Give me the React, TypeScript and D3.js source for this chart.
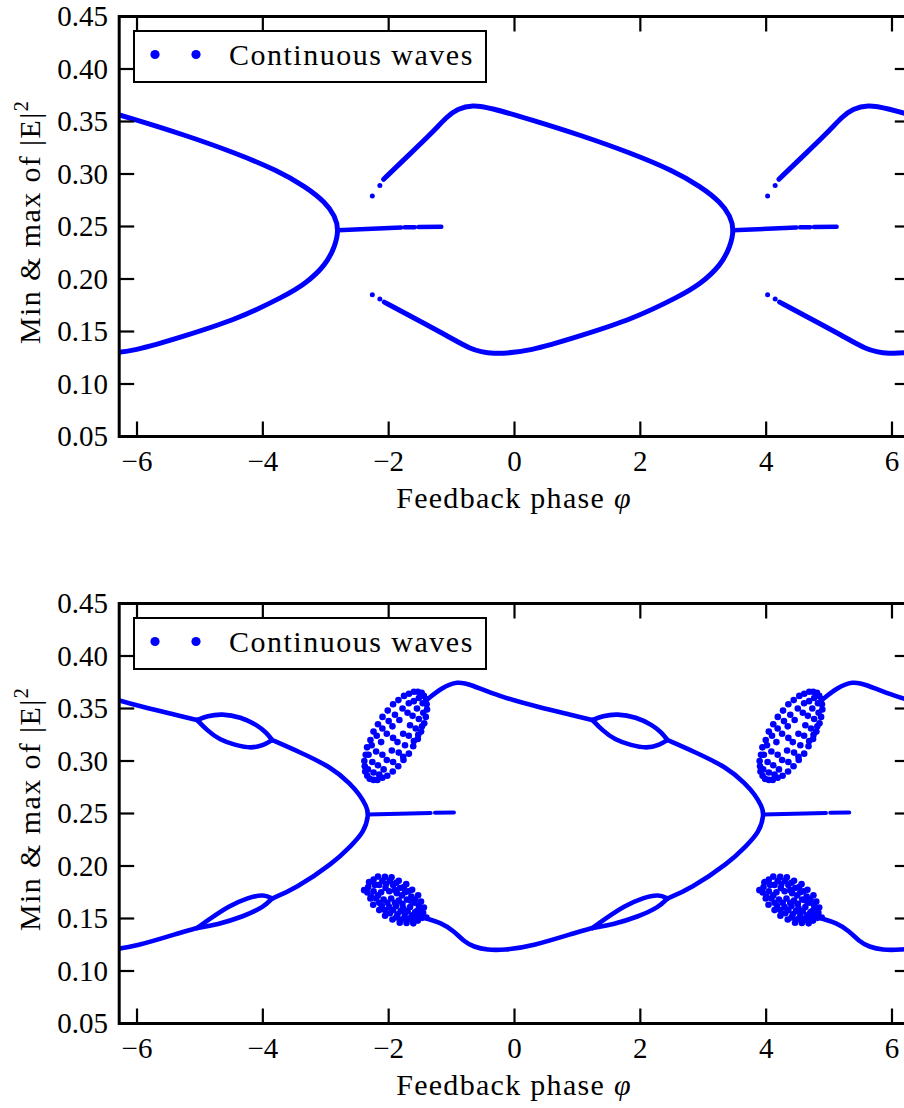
import React from "react";
import * as d3 from "d3";

type P = [number, number];

// Feedback phase is 2π-periodic: each branch is stored for one period and repeated.
const PERIOD = 2 * Math.PI;
const PERIOD_COPIES = [-1, 0, 1];

const X_TICKS = [-6, -4, -2, 0, 2, 4, 6];
const Y_TICKS = [0.05, 0.1, 0.15, 0.2, 0.25, 0.3, 0.35, 0.4, 0.45];
const LEGEND_LABEL = "Continuous waves";
const X_LABEL = "Feedback phase ";
const X_SYMBOL = "φ";
const Y_LABEL = "Min & max of |E|";
const Y_SUP = "2";

// ---- upper panel: period-one branches ----
const TOP_UPPER: P[] = [
  [-2.08, 0.295], [-1.7, 0.317], [-1.33, 0.338], [-1.07, 0.355], [-0.91, 0.362],
  [-0.67, 0.366], [-0.38, 0.363], [0.25, 0.352], [1.05, 0.337], [1.85, 0.32],
  [2.53, 0.303], [2.96, 0.288], [3.28, 0.273], [3.43, 0.26], [3.49, 0.247],
];
const TOP_LOWER: P[] = [
  [-2.07, 0.178], [-1.6, 0.163], [-1.07, 0.146], [-0.7, 0.133], [-0.38, 0.128],
  [0.25, 0.131], [1.05, 0.146], [1.85, 0.161], [2.64, 0.184], [2.95, 0.195],
  [3.28, 0.213], [3.43, 0.231], [3.49, 0.247],
];
const TOP_STEM: P[][] = [
  [[3.47, 0.2465], [4.48, 0.249]],
  [[4.54, 0.2492], [4.7, 0.2494]],
  [[4.76, 0.2495], [5.12, 0.2497]],
];
const TOP_ISOLATED: P[] = [
  [-2.26, 0.279], [-2.14, 0.289], [-2.26, 0.185], [-2.14, 0.181],
];

// ---- lower panel: period-one branches ----
const BOT_UPPER_IN: P[] = [
  [-1.4, 0.358], [-1.15, 0.37], [-0.91, 0.376], [-0.7, 0.373], [-0.27, 0.362],
  [0.4, 0.351], [0.9, 0.344], [1.24, 0.339],
];
const BOT_LOOP_HI_TOP: P[] = [
  [1.24, 0.339], [1.4, 0.343], [1.63, 0.345], [1.93, 0.342], [2.2, 0.334], [2.34, 0.327], [2.43, 0.32],
];
const BOT_LOOP_HI_BOTTOM: P[] = [
  [1.24, 0.339], [1.4, 0.329], [1.6, 0.32], [1.85, 0.315], [2.1, 0.312], [2.3, 0.315], [2.43, 0.32],
];
const BOT_UPPER_OUT: P[] = [
  [2.43, 0.32], [2.85, 0.309], [3.38, 0.294], [3.68, 0.278], [3.82, 0.268], [3.93, 0.257], [3.97, 0.249],
];
const BOT_LOWER_IN: P[] = [
  [-1.4, 0.15], [-1.17, 0.146], [-0.96, 0.138], [-0.8, 0.128], [-0.65, 0.123],
  [-0.43, 0.12], [-0.17, 0.12], [0.25, 0.123], [1.05, 0.138], [1.24, 0.141],
];
const BOT_LOOP_LO_TOP: P[] = [
  [1.24, 0.141], [1.45, 0.15], [1.75, 0.162], [2.05, 0.17], [2.3, 0.173], [2.43, 0.169],
];
const BOT_LOOP_LO_BOTTOM: P[] = [
  [1.24, 0.141], [1.55, 0.144], [1.98, 0.152], [2.3, 0.161], [2.43, 0.169],
];
const BOT_LOWER_OUT: P[] = [
  [2.43, 0.169], [2.79, 0.178], [3.41, 0.203], [3.68, 0.219], [3.89, 0.232], [3.97, 0.249],
];
const BOT_STEM: P[][] = [
  [[3.95, 0.249], [4.95, 0.2505]],
  [[5.02, 0.2507], [5.32, 0.251]],
];

// chaotic bands: individual extrema (rim first, then interior)
const CLOUD_UPPER: P[] = [
  [-1.476, 0.365], [-1.44, 0.362], [-1.405, 0.359], [-1.397, 0.354], [-1.39, 0.349],
  [-1.41, 0.342], [-1.435, 0.336], [-1.485, 0.328], [-1.537, 0.321], [-1.61, 0.314],
  [-1.679, 0.307], [-1.765, 0.301], [-1.848, 0.295], [-1.935, 0.29], [-2.022, 0.286],
  [-2.1, 0.284], [-2.179, 0.282], [-2.24, 0.282], [-2.302, 0.283], [-2.34, 0.286],
  [-2.373, 0.29], [-2.38, 0.295], [-2.387, 0.3], [-2.365, 0.306], [-2.343, 0.313],
  [-2.29, 0.32], [-2.241, 0.328], [-2.17, 0.335], [-2.098, 0.342], [-2.015, 0.348],
  [-1.93, 0.354], [-1.845, 0.358], [-1.756, 0.362], [-1.677, 0.364], [-1.598, 0.366],
  [-1.537, 0.366],
  [-1.52, 0.36], [-1.46, 0.355], [-1.6, 0.357], [-1.68, 0.355], [-1.55, 0.35], [-1.45, 0.346],
  [-1.78, 0.35], [-1.7, 0.346], [-1.62, 0.343], [-1.52, 0.34], [-1.47, 0.333],
  [-1.9, 0.344], [-1.83, 0.339], [-1.66, 0.334], [-1.57, 0.331], [-1.53, 0.325],
  [-2.0, 0.338], [-1.94, 0.333], [-1.77, 0.326], [-1.68, 0.324], [-1.6, 0.319],
  [-2.1, 0.331], [-2.03, 0.326], [-1.93, 0.322], [-1.86, 0.318], [-1.74, 0.315],
  [-2.19, 0.324], [-2.12, 0.318], [-1.95, 0.31], [-1.84, 0.308], [-1.77, 0.304],
  [-2.27, 0.315], [-2.2, 0.309], [-2.1, 0.306], [-2.03, 0.301], [-1.93, 0.299],
  [-2.32, 0.306], [-2.26, 0.299], [-2.17, 0.296], [-2.08, 0.292],
  [-2.33, 0.292], [-2.24, 0.289], [-2.15, 0.287],
];
const CLOUD_LOWER: P[] = [
  [-2.39, 0.177],
  [-1.466, 0.1506], [-1.537, 0.148], [-1.608, 0.1454], [-1.716, 0.1457], [-1.824, 0.146],
  [-1.94, 0.149], [-2.057, 0.1526], [-2.15, 0.158], [-2.246, 0.1631], [-2.29, 0.169],
  [-2.338, 0.1748], [-2.325, 0.18], [-2.311, 0.1846], [-2.24, 0.187], [-2.17, 0.1899],
  [-2.06, 0.1896], [-1.954, 0.1892], [-1.84, 0.186], [-1.721, 0.1827], [-1.627, 0.1774],
  [-1.532, 0.1721], [-1.486, 0.1662], [-1.44, 0.1604], [-1.453, 0.1555], [-1.4, 0.151],
  [-2.15, 0.182], [-2.04, 0.183], [-1.93, 0.182], [-1.82, 0.179],
  [-2.24, 0.176], [-2.12, 0.175], [-1.99, 0.176], [-1.87, 0.174], [-1.74, 0.175], [-1.64, 0.171],
  [-2.2, 0.169], [-2.08, 0.168], [-1.96, 0.169], [-1.84, 0.167], [-1.71, 0.168], [-1.59, 0.165], [-1.52, 0.162],
  [-2.11, 0.162], [-1.99, 0.161], [-1.88, 0.162], [-1.77, 0.16], [-1.66, 0.161], [-1.55, 0.157],
  [-1.98, 0.155], [-1.86, 0.154], [-1.74, 0.155], [-1.63, 0.153], [-1.51, 0.154],
  [-1.8, 0.149], [-1.68, 0.15], [-1.58, 0.151],
  [-2.22, 0.182], [-2.1, 0.186], [-1.98, 0.186], [-1.88, 0.184], [-1.76, 0.18],
  [-2.28, 0.171], [-2.17, 0.172], [-2.05, 0.179], [-1.9, 0.177], [-1.79, 0.172], [-1.69, 0.176], [-1.58, 0.168],
  [-2.15, 0.165], [-2.02, 0.165], [-1.9, 0.165], [-1.78, 0.164], [-1.65, 0.167], [-1.5, 0.16],
  [-2.06, 0.158], [-1.93, 0.158], [-1.81, 0.157], [-1.7, 0.157], [-1.58, 0.156], [-1.47, 0.155],
  [-1.88, 0.151], [-1.75, 0.151], [-1.62, 0.148], [-1.52, 0.151],
];

const BLUE = "#0000ff";
const FONT = "Liberation Serif, Times New Roman, DejaVu Serif, serif";
const PLOT_LEFT = 119.2;
const PLOT_RIGHT = 909.8;
const PLOT_H = 420;

type PanelSpec = {
  id: string;
  top: number;
  curves: P[][];
  stems: P[][];
  lineWidth: number;
  dots: P[];
  dotR: number;
};

const PANELS: PanelSpec[] = [
  {
    id: "cw1",
    top: 16.5,
    curves: [[...TOP_UPPER, ...TOP_LOWER.slice(0, -1).reverse()]],
    stems: TOP_STEM,
    lineWidth: 5,
    dots: TOP_ISOLATED,
    dotR: 2.5,
  },
  {
    id: "cw2",
    top: 603.5,
    curves: [
      BOT_UPPER_IN,
      BOT_LOOP_HI_TOP,
      BOT_LOOP_HI_BOTTOM,
      [...BOT_UPPER_OUT, ...BOT_LOWER_OUT.slice(0, -1).reverse()],
      BOT_LOWER_IN,
      BOT_LOOP_LO_TOP,
      BOT_LOOP_LO_BOTTOM,
    ],
    stems: BOT_STEM,
    lineWidth: 4.6,
    dots: [...CLOUD_UPPER, ...CLOUD_LOWER],
    dotR: 3.3,
  },
];

function Panel({ spec }: { spec: PanelSpec }) {
  const { top } = spec;
  const bottom = top + PLOT_H;
  const x = d3.scaleLinear().domain([-PERIOD, PERIOD]).range([PLOT_LEFT, PLOT_RIGHT]);
  const y = d3.scaleLinear().domain([0.05, 0.45]).range([bottom, top]);
  const curve = d3
    .line<P>()
    .x((d) => x(d[0]))
    .y((d) => y(d[1]))
    .curve(d3.curveBasis);
  const straight = d3
    .line<P>()
    .x((d) => x(d[0]))
    .y((d) => y(d[1]));
  const shift = (pts: P[], k: number): P[] => pts.map(([p, v]) => [p + k * PERIOD, v]);
  const clipId = `clip-${spec.id}`;
  const tickLen = 15;

  return (
    <g>
      <defs>
        <clipPath id={clipId}>
          <rect x={PLOT_LEFT} y={top} width={PLOT_RIGHT - PLOT_LEFT} height={PLOT_H} />
        </clipPath>
      </defs>
      <g clipPath={`url(#${clipId})`}>
        {PERIOD_COPIES.map((k) => (
          <g key={k}>
            {spec.curves.map((c, i) => (
              <path
                key={`c${i}`}
                d={curve(shift(c, k)) || ""}
                fill="none"
                stroke={BLUE}
                strokeWidth={spec.lineWidth}
                strokeLinecap="round"
                strokeLinejoin="round"
              />
            ))}
            {spec.stems.map((c, i) => (
              <path
                key={`s${i}`}
                d={straight(shift(c, k)) || ""}
                fill="none"
                stroke={BLUE}
                strokeWidth={spec.lineWidth - 0.5}
                strokeLinecap="round"
              />
            ))}
            {spec.dots.map(([p, v], i) => (
              <circle key={`d${i}`} cx={x(p + k * PERIOD)} cy={y(v)} r={spec.dotR} fill={BLUE} />
            ))}
          </g>
        ))}
      </g>

      {/* frame */}
      <rect
        x={PLOT_LEFT}
        y={top}
        width={PLOT_RIGHT - PLOT_LEFT}
        height={PLOT_H}
        fill="none"
        stroke="#000"
        strokeWidth={3}
      />
      {X_TICKS.map((t) => (
        <g key={`xt${t}`}>
          <line x1={x(t)} x2={x(t)} y1={bottom} y2={bottom - tickLen} stroke="#000" strokeWidth={2.2} />
          <line x1={x(t)} x2={x(t)} y1={top} y2={top + tickLen} stroke="#000" strokeWidth={2.2} />
          <text x={x(t)} y={bottom + 34.5} textAnchor="middle" fontSize={29} fill="#000">
            {t < 0 ? `\u2212${Math.abs(t)}` : `${t}`}
          </text>
        </g>
      ))}
      {Y_TICKS.map((t) => (
        <g key={`yt${t}`}>
          <line x1={PLOT_LEFT} x2={PLOT_LEFT + tickLen} y1={y(t)} y2={y(t)} stroke="#000" strokeWidth={2.2} />
          <line x1={PLOT_RIGHT} x2={PLOT_RIGHT - tickLen} y1={y(t)} y2={y(t)} stroke="#000" strokeWidth={2.2} />
          <text x={108} y={y(t) + 9.8} textAnchor="end" fontSize={29} fill="#000">
            {t.toFixed(2)}
          </text>
        </g>
      ))}

      {/* legend */}
      <rect x={134} y={top + 14.5} width={352} height={51} fill="#fff" stroke="#000" strokeWidth={2} />
      <circle cx={155} cy={top + 38} r={4.6} fill={BLUE} />
      <circle cx={196} cy={top + 38} r={4.6} fill={BLUE} />
      <text x={229} y={top + 48.5} fontSize={30} letterSpacing={1.5} fill="#000">
        {LEGEND_LABEL}
      </text>

      {/* axis titles */}
      <text x={514} y={bottom + 71.5} textAnchor="middle" fontSize={30} letterSpacing={1.3} fill="#000">
        {X_LABEL}
        <tspan fontStyle="italic">{X_SYMBOL}</tspan>
      </text>
      <text
        transform={`translate(40,${top + 205.5}) rotate(-90)`}
        textAnchor="middle"
        fontSize={30}
        letterSpacing={1.4}
        fill="#000"
      >
        {Y_LABEL}
        <tspan fontSize={20} dy={-12}>
          {Y_SUP}
        </tspan>
      </text>
    </g>
  );
}

export default function App() {
  return (
    <svg
      width={904}
      height={1108}
      viewBox="0 0 904 1108"
      fontFamily={FONT}
      style={{ position: "absolute", left: 0, top: 0, display: "block", background: "#fff", fontFamily: FONT }}
    >
      <rect x={0} y={0} width={904} height={1108} fill="#fff" />
      {PANELS.map((p) => (
        <Panel key={p.id} spec={p} />
      ))}
    </svg>
  );
}
